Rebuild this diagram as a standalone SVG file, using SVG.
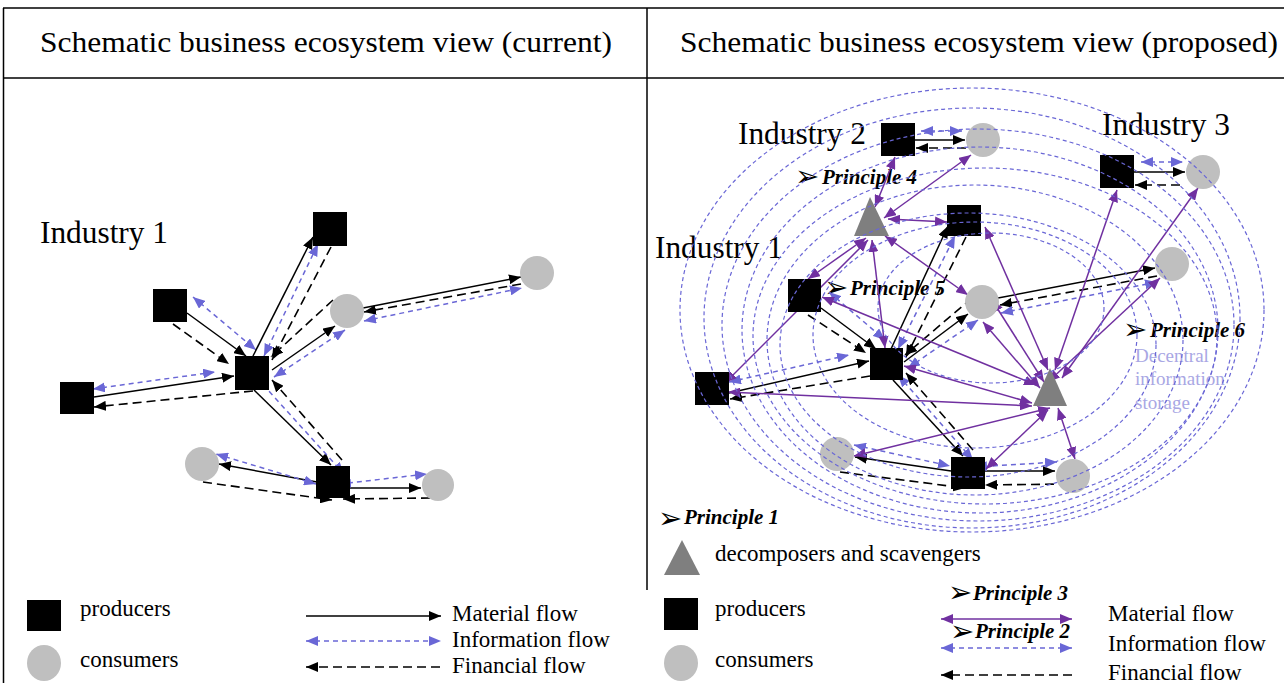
<svg xmlns="http://www.w3.org/2000/svg" width="1284" height="683" viewBox="0 0 1284 683">
<style>
.t{font-family:"Liberation Serif","Times New Roman",serif;fill:#000}
.h{font-size:30px}
.ind{font-size:31px}
.lg{font-size:23px}
.pr{font-size:21px;font-weight:bold;font-style:italic}
.ar{font-family:"DejaVu Sans",sans-serif;font-size:29px;fill:#000}
.ds{font-family:"Liberation Serif",serif;font-size:19px;fill:#a9a7e4}
.prod{fill:#000}
.cons{fill:#bfbfbf}
.dec{fill:#7f7f7f}
.mat{stroke:#000;stroke-width:1.5;fill:none;marker-end:url(#mb)}
.fin{stroke:#000;stroke-width:1.6;fill:none;stroke-dasharray:9 5;marker-end:url(#mb)}
.inf{stroke:#6a67d6;stroke-width:1.5;fill:none;stroke-dasharray:5 4;marker-start:url(#mu);marker-end:url(#mu)}
.pur{stroke:#7030a0;stroke-width:1.5;fill:none;marker-start:url(#mp);marker-end:url(#mp)}
.ell{stroke:#6a67d6;stroke-width:1.2;fill:none;stroke-dasharray:4 3}
.frame{stroke:#000;stroke-width:1.5;fill:none}
</style>
<defs>
<marker id="mb" viewBox="0 0 12 10" refX="12" refY="5" markerWidth="12" markerHeight="10" markerUnits="userSpaceOnUse" orient="auto-start-reverse"><path d="M0,0L12,5L0,10z" fill="#000"/></marker>
<marker id="mu" viewBox="0 0 12 10" refX="12" refY="5" markerWidth="12" markerHeight="10" markerUnits="userSpaceOnUse" orient="auto-start-reverse"><path d="M0,0L12,5L0,10z" fill="#6a67d6"/></marker>
<marker id="mp" viewBox="0 0 12 10" refX="12" refY="5" markerWidth="12" markerHeight="10" markerUnits="userSpaceOnUse" orient="auto-start-reverse"><path d="M0,0L12,5L0,10z" fill="#7030a0"/></marker>
</defs>
<rect width="1284" height="683" fill="#fff"/>
<g id="frame">
<line class="frame" x1="3" y1="8" x2="1284" y2="8"/>
<line class="frame" x1="3" y1="78" x2="1284" y2="78" stroke-width="2"/>
<line class="frame" x1="3.5" y1="8" x2="3.5" y2="683"/>
<line class="frame" x1="647" y1="8" x2="647" y2="590"/>
</g>
<g id="headers">
<text class="t h" x="40" y="52" textLength="572" lengthAdjust="spacingAndGlyphs">Schematic business ecosystem view (current)</text>
<text class="t h" x="680" y="52" textLength="598" lengthAdjust="spacingAndGlyphs">Schematic business ecosystem view (proposed)</text>
</g>
<g id="labels">
<text class="t ind" x="40" y="243" textLength="128" lengthAdjust="spacingAndGlyphs">Industry  1</text>
<text class="t ind" x="738" y="144" textLength="128" lengthAdjust="spacingAndGlyphs">Industry  2</text>
<text class="t ind" x="1102" y="135" textLength="128" lengthAdjust="spacingAndGlyphs">Industry  3</text>
<text class="t ind" x="655" y="258" textLength="128" lengthAdjust="spacingAndGlyphs">Industry  1</text>
<text class="ar" x="795" y="186">➢</text><text class="t pr" x="822" y="184">Principle 4</text>
<text class="ar" x="824" y="297">➢</text><text class="t pr" x="850" y="295">Principle 5</text>
<text class="ar" x="1123" y="339">➢</text><text class="t pr" x="1150" y="337">Principle 6</text>
<text class="ds" x="1135" y="362">Decentral</text>
<text class="ds" x="1135" y="385">information</text>
<text class="ds" x="1135" y="409">storage</text>
</g>
<g id="connectors">
<!-- left panel -->
<line class="mat" x1="187" y1="313" x2="246" y2="356"/>
<line class="fin" x1="173" y1="324" x2="229" y2="364"/>
<line class="inf" x1="193" y1="297" x2="256" y2="350"/>
<line class="mat" x1="94" y1="397" x2="234" y2="376"/>
<line class="inf" x1="93" y1="389" x2="215" y2="372"/>
<line class="fin" x1="253" y1="391" x2="94" y2="407"/>
<line class="mat" x1="253" y1="356" x2="313" y2="237"/>
<line class="inf" x1="264" y1="356" x2="318" y2="244"/>
<line class="fin" x1="331" y1="247" x2="272" y2="360"/>
<line class="mat" x1="272" y1="370" x2="335" y2="326"/>
<line class="inf" x1="274" y1="377" x2="345" y2="330"/>
<line class="fin" x1="333" y1="300" x2="271" y2="357"/>
<line class="mat" x1="363" y1="308" x2="521" y2="277"/>
<line class="fin" x1="521" y1="284" x2="364" y2="312"/>
<line class="inf" x1="364" y1="321" x2="522" y2="288"/>
<line class="mat" x1="254" y1="390" x2="331" y2="465"/>
<line class="inf" x1="257" y1="378" x2="344" y2="474"/>
<line class="fin" x1="342" y1="460" x2="272" y2="380"/>
<line class="mat" x1="317" y1="482" x2="219" y2="464"/>
<line class="inf" x1="316" y1="484" x2="216" y2="454"/>
<line class="fin" x1="203" y1="482" x2="332" y2="500"/>
<line class="mat" x1="350" y1="488" x2="421" y2="488"/>
<line class="inf" x1="339" y1="484" x2="427" y2="474"/>
<line class="fin" x1="430" y1="498" x2="343" y2="499"/>
<!-- right panel: industry 2 & 3 -->
<line class="mat" x1="915" y1="140" x2="965" y2="140"/>
<line class="inf" x1="921" y1="131" x2="962" y2="131"/>
<line class="fin" x1="966" y1="148" x2="916" y2="148"/>
<line class="mat" x1="1134" y1="172" x2="1185" y2="172"/>
<line class="inf" x1="1141" y1="162" x2="1183" y2="162"/>
<line class="fin" x1="1180" y1="185" x2="1135" y2="185"/>
<!-- right panel cluster -->
<line class="mat" x1="821" y1="308" x2="876" y2="349"/>
<line class="fin" x1="808" y1="315" x2="866" y2="353"/>
<line class="inf" x1="829" y1="292" x2="885" y2="340"/>
<line class="mat" x1="729" y1="393" x2="869" y2="361"/>
<line class="inf" x1="729" y1="382" x2="849" y2="355"/>
<line class="fin" x1="870" y1="376" x2="730" y2="399"/>
<line class="mat" x1="891" y1="349" x2="948" y2="226"/>
<line class="inf" x1="898" y1="349" x2="955" y2="236"/>
<line class="fin" x1="966" y1="237" x2="906" y2="357"/>
<line class="mat" x1="904" y1="362" x2="968" y2="314"/>
<line class="inf" x1="908" y1="368" x2="978" y2="320"/>
<line class="fin" x1="972" y1="298" x2="905" y2="355"/>
<line class="mat" x1="998" y1="298" x2="1155" y2="268"/>
<line class="fin" x1="1157" y1="276" x2="1000" y2="305"/>
<line class="inf" x1="1001" y1="313" x2="1157" y2="282"/>
<line class="mat" x1="893" y1="380" x2="963" y2="456"/>
<line class="inf" x1="898" y1="375" x2="973" y2="460"/>
<line class="fin" x1="973" y1="450" x2="906" y2="373"/>
<line class="mat" x1="951" y1="471" x2="855" y2="457"/>
<line class="inf" x1="854" y1="445" x2="950" y2="466"/>
<line class="fin" x1="840" y1="472" x2="965" y2="488"/>
<line class="mat" x1="985" y1="471" x2="1055" y2="471"/>
<line class="inf" x1="975" y1="467" x2="1057" y2="462"/>
<line class="fin" x1="1068" y1="484" x2="985" y2="485"/>
<!-- purple material loops -->
<line class="pur" x1="875" y1="207" x2="895" y2="157"/>
<line class="pur" x1="884" y1="218" x2="971" y2="155"/>
<line class="pur" x1="888" y1="219" x2="947" y2="222"/>
<line class="pur" x1="866" y1="238" x2="808" y2="279"/>
<line class="pur" x1="868" y1="240" x2="725" y2="383"/>
<line class="pur" x1="872" y1="240" x2="885" y2="348"/>
<line class="pur" x1="885" y1="236" x2="968" y2="295"/>
<line class="pur" x1="1055" y1="370" x2="1117" y2="190"/>
<line class="pur" x1="1062" y1="378" x2="1198" y2="188"/>
<line class="pur" x1="1048" y1="382" x2="1160" y2="278"/>
<line class="pur" x1="1044" y1="382" x2="992" y2="300"/>
<line class="pur" x1="1040" y1="388" x2="983" y2="322"/>
<line class="pur" x1="1048" y1="370" x2="985" y2="227"/>
<line class="pur" x1="1036" y1="385" x2="822" y2="297"/>
<line class="pur" x1="1032" y1="403" x2="904" y2="366"/>
<line class="pur" x1="1032" y1="406" x2="728" y2="392"/>
<line class="pur" x1="1050" y1="408" x2="854" y2="456"/>
<line class="pur" x1="1048" y1="410" x2="986" y2="469"/>
<line class="pur" x1="1058" y1="408" x2="1075" y2="459"/>
</g>
<g id="nodes-left">
<rect id="L-P-top" class="prod" x="313" y="212" width="34" height="34"/>
<rect id="L-P-lm" class="prod" x="153" y="289" width="34" height="33"/>
<rect id="L-P-hub" class="prod" x="235" y="356" width="34" height="34"/>
<rect id="L-P-lb" class="prod" x="60" y="382" width="34" height="32"/>
<rect id="L-P-b" class="prod" x="316" y="466" width="34" height="32"/>
<circle id="L-C1" class="cons" cx="537" cy="273" r="17"/>
<circle id="L-C2" class="cons" cx="347" cy="311" r="17"/>
<circle id="L-C3" class="cons" cx="202" cy="464" r="17"/>
<circle id="L-C4" class="cons" cx="438" cy="485" r="16"/>
</g>
<g id="nodes-right">
<rect id="R-I2P" class="prod" x="881" y="123" width="34" height="33"/>
<circle id="R-I2C" class="cons" cx="983" cy="140" r="17"/>
<rect id="R-I3P" class="prod" x="1100" y="155" width="34" height="33"/>
<circle id="R-I3C" class="cons" cx="1203" cy="172" r="17"/>
<polygon id="R-T1" class="dec" points="870,197 854,236 889,236"/>
<rect id="R-P2" class="prod" x="947" y="205" width="34" height="31"/>
<rect id="R-P1" class="prod" x="788" y="279" width="33" height="33"/>
<rect id="R-Hub" class="prod" x="870" y="348" width="33" height="32"/>
<circle id="R-C5" class="cons" cx="982" cy="302" r="17"/>
<rect id="R-P3" class="prod" x="695" y="372" width="34" height="33"/>
<circle id="R-C6" class="cons" cx="1172" cy="264" r="17"/>
<polygon id="R-T2" class="dec" points="1050,368 1033,406 1067,406"/>
<circle id="R-C7" class="cons" cx="837" cy="454" r="17"/>
<rect id="R-P4" class="prod" x="951" y="457" width="34" height="32"/>
<circle id="R-C8" class="cons" cx="1073" cy="476" r="17"/>
</g>
<g id="ellipses">
<ellipse class="ell" cx="972" cy="310" rx="292" ry="222"/>
<ellipse class="ell" cx="972" cy="318" rx="268" ry="210"/>
<ellipse class="ell" cx="978" cy="325" rx="256" ry="196"/>
<ellipse class="ell" cx="980" cy="330" rx="238" ry="183"/>
<ellipse class="ell" cx="985" cy="336" rx="232" ry="168"/>
<ellipse class="ell" cx="975" cy="340" rx="208" ry="155"/>
<ellipse class="ell" cx="968" cy="345" rx="188" ry="132"/>
<ellipse class="ell" cx="975" cy="335" rx="162" ry="113"/>
<ellipse class="ell" cx="991" cy="308" rx="113" ry="75"/>
</g>
<g id="legend-left">
<rect class="prod" x="27" y="600" width="34" height="31"/>
<text class="t lg" x="80" y="616">producers</text>
<ellipse class="cons" cx="44" cy="663" rx="17" ry="18"/>
<text class="t lg" x="80" y="667">consumers</text>
<line class="mat" x1="306" y1="616" x2="441" y2="616"/>
<text class="t lg" x="452" y="621">Material flow</text>
<line class="inf" x1="306" y1="641" x2="441" y2="641"/>
<text class="t lg" x="452" y="647">Information flow</text>
<line class="fin" x1="440" y1="667" x2="306" y2="667" stroke-dasharray="10 7"/>
<text class="t lg" x="452" y="673">Financial flow</text>
</g>
<g id="legend-right">
<text class="ar" x="658" y="528">➢</text><text class="t pr" x="684" y="524">Principle 1</text>
<polygon class="dec" points="682,540 664,575 700,575"/>
<text class="t lg" x="715" y="561">decomposers and scavengers</text>
<rect class="prod" x="664" y="598" width="34" height="32"/>
<text class="t lg" x="715" y="616">producers</text>
<ellipse class="cons" cx="681" cy="663" rx="17" ry="18"/>
<text class="t lg" x="715" y="667">consumers</text>
<text class="ar" x="948" y="602">➢</text><text class="t pr" x="973" y="600">Principle 3</text>
<line class="pur" x1="941" y1="619" x2="1072" y2="619"/>
<text class="t lg" x="1108" y="621">Material flow</text>
<text class="ar" x="950" y="641">➢</text><text class="t pr" x="975" y="638">Principle 2</text>
<line class="inf" x1="941" y1="648" x2="1072" y2="648"/>
<text class="t lg" x="1108" y="651">Information flow</text>
<line class="fin" x1="1072" y1="675" x2="941" y2="675" stroke-dasharray="10 7"/>
<text class="t lg" x="1108" y="680">Financial flow</text>
</g>
</svg>
